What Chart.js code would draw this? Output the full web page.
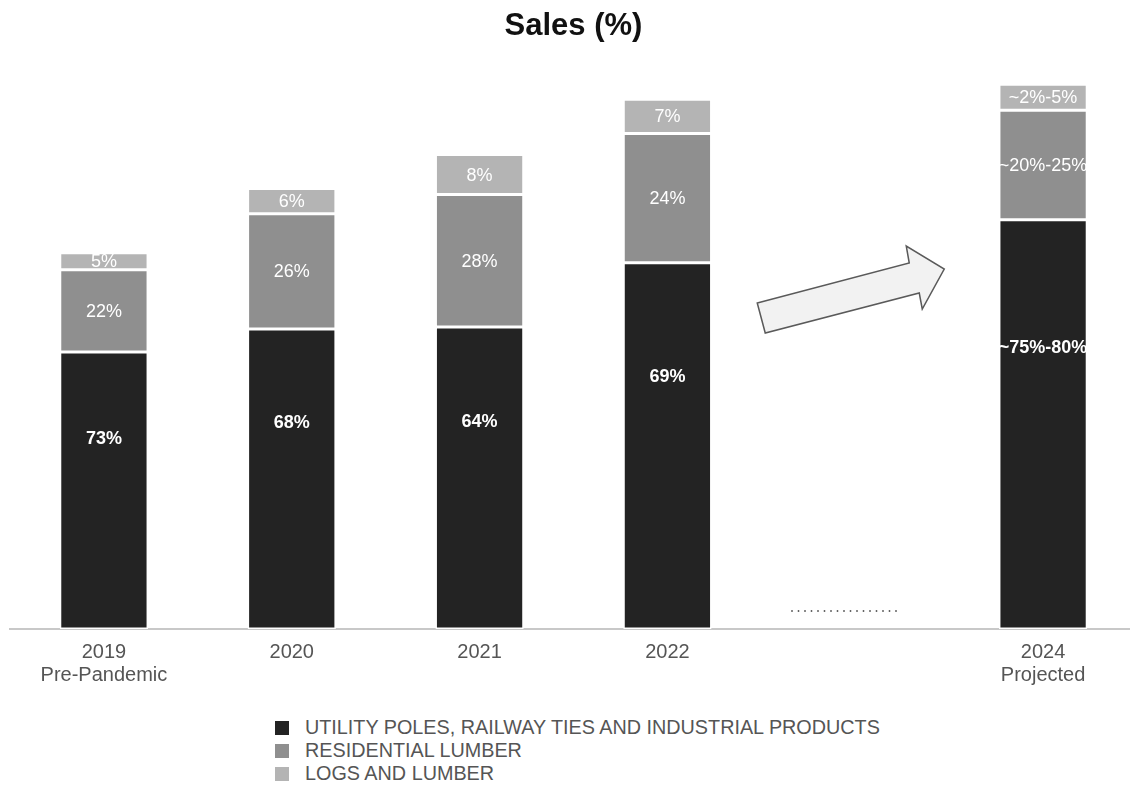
<!DOCTYPE html>
<html>
<head>
<meta charset="utf-8">
<script src="https://cdn.jsdelivr.net/npm/chart.js@4/dist/chart.umd.min.js"></script>
<style>
  html, body { margin: 0; padding: 0; background: #fff; overflow: hidden; }
  #wrap { position: relative; width: 1130px; height: 787px; }
  #salesChart { position: absolute; left: 0; top: 0; }
  #legend { position: absolute; left: 275px; top: 716px; font-family: "Liberation Sans", Arial, sans-serif; font-size: 19.8px; color: #555; }
  .row { display: flex; align-items: center; height: 23px; }
  .box { width: 14px; height: 14px; margin-right: 16px; }
</style>
</head>
<body>
<div id="wrap">
  <canvas id="salesChart"></canvas>
  <div id="legend"></div>
</div>
<script>
// relative sales volume per year (bar heights), gap slot between 2022 and 2024
const categories = [['2019', 'Pre-Pandemic'], '2020', '2021', '2022', '', ['2024', 'Projected']];
const seriesNames = ['UTILITY POLES, RAILWAY TIES AND INDUSTRIAL PRODUCTS', 'RESIDENTIAL LUMBER', 'LOGS AND LUMBER'];
const utilityValues = [276, 299, 301, 365, null, 408];
const residentialValues = [82, 115, 132, 129, null, 109];
const logsValues = [17, 25, 40, 34, null, 26];
const utilityLabels = ['73%', '68%', '64%', '69%', '', '~75%-80%'];
const residentialLabels = ['22%', '26%', '28%', '24%', '', '~20%-25%'];
const logsLabels = ['5%', '6%', '8%', '7%', '', '~2%-5%'];
const colors = ['#232323', '#8f8f8f', '#b4b4b4'];

const canvas = document.getElementById('salesChart');
canvas.width = 1140;
canvas.height = 713;
canvas.style.width = '1140px';
canvas.style.height = '713px';

// legend as html so rows line up on the left
const legend = document.getElementById('legend');
seriesNames.forEach(function (name, i) {
    const row = document.createElement('div');
    row.className = 'row';
    row.innerHTML = '<span class="box" style="background:' + colors[i] + '"></span>' + name;
    legend.appendChild(row);
});

const barText = {
    id: 'barText',
    afterDatasetsDraw(chart) {
        const ctx = chart.ctx;
        const allLabels = [utilityLabels, residentialLabels, logsLabels];
        ctx.save();
        ctx.fillStyle = '#fff';
        ctx.textAlign = 'center';
        ctx.textBaseline = 'middle';
        chart.data.datasets.forEach(function (ds, di) {
            ctx.font = (di === 0 ? 'bold ' : '') + '18px "Liberation Sans", Arial, sans-serif';
            chart.getDatasetMeta(di).data.forEach(function (bar, i) {
                const txt = allLabels[di][i];
                if (!txt) return;
                const top = Math.min(bar.y, bar.base);
                const h = Math.abs(bar.base - bar.y);
                const y = di === 0 ? top + h * 0.31 : top + h / 2;
                ctx.fillText(txt, bar.x, y + 1);
            });
        });
        ctx.restore();
    }
};

const decorations = {
    id: 'decorations',
    afterDatasetsDraw(chart) {
        const ctx = chart.ctx;
        const cx = chart.scales.x.getPixelForValue(4);
        const base = chart.scales.y.getPixelForValue(0);
        ctx.save();
        // dotted placeholder in the gap
        ctx.strokeStyle = '#333';
        ctx.lineWidth = 1.5;
        ctx.setLineDash([1.5, 5]);
        ctx.beginPath();
        ctx.moveTo(cx - 64, base - 18);
        ctx.lineTo(cx + 44, base - 18);
        ctx.stroke();
        ctx.setLineDash([]);
        // trend arrow
        const pts = [[-98, -326], [54, -366], [51, -383], [89, -360], [67, -320], [64, -336], [-90, -296]];
        ctx.beginPath();
        pts.forEach(function (p, i) {
            if (i === 0) ctx.moveTo(cx + p[0], base + p[1]);
            else ctx.lineTo(cx + p[0], base + p[1]);
        });
        ctx.closePath();
        ctx.fillStyle = '#f2f2f2';
        ctx.fill();
        ctx.strokeStyle = '#5a5a5a';
        ctx.lineWidth = 1.5;
        ctx.stroke();
        ctx.restore();
    }
};

new Chart(canvas.getContext('2d'), {
    type: 'bar',
    data: {
        labels: categories,
        datasets: [
            { label: seriesNames[0], data: utilityValues, backgroundColor: colors[0] },
            { label: seriesNames[1], data: residentialValues, backgroundColor: colors[1] },
            { label: seriesNames[2], data: logsValues, backgroundColor: colors[2] }
        ]
    },
    options: {
        responsive: false,
        animation: false,
        layout: { padding: { left: 10, right: 3, top: 0, bottom: 14 } },
        datasets: {
            bar: {
                categoryPercentage: 1,
                barPercentage: 0.47,
                borderColor: '#fff',
                borderWidth: 1.5,
                borderSkipped: false
            }
        },
        plugins: {
            legend: { display: false },
            tooltip: { enabled: false },
            title: {
                display: true,
                text: 'Sales (%)',
                color: '#111',
                font: { family: '"Liberation Sans", Arial, sans-serif', size: 31, weight: 'bold', lineHeight: 1.2 },
                padding: { top: 8, bottom: 25 }
            }
        },
        scales: {
            x: {
                stacked: true,
                grid: { display: false, drawTicks: false },
                border: { display: true, color: '#c8c8c8', width: 2 },
                ticks: {
                    color: '#555',
                    padding: 12,
                    autoSkip: false,
                    maxRotation: 0,
                    font: { family: '"Liberation Sans", Arial, sans-serif', size: 20, lineHeight: 1.15 }
                }
            },
            y: {
                stacked: true,
                display: false,
                min: 0,
                max: 557
            }
        }
    },
    plugins: [barText, decorations]
});
</script>
</body>
</html>
